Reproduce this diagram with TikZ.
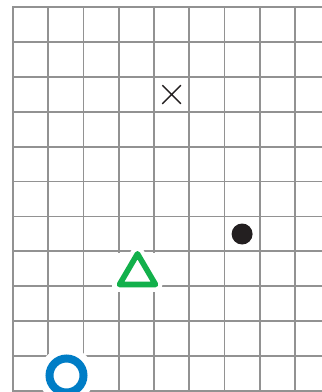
\documentclass[tikz,border=0pt]{standalone}
\definecolor{gridgray}{RGB}{146,146,146}
\definecolor{ringblue}{RGB}{0,125,198}
\definecolor{trigreen}{RGB}{18,176,75}
\definecolor{markblack}{RGB}{35,31,32}
\begin{document}
\begin{tikzpicture}[x=1pt,y=-1pt,
  gridline/.style={draw=gridgray, line width=1.8pt, line cap=rect},
  halo/.style={fill=white, draw=none},
  crossmark/.style={draw=markblack, line width=1.5pt},
  trianglemark/.style={draw=trigreen, line width=5.6pt, line join=round},
  ringmark/.style={draw=ringblue, line width=8pt},
  dotmark/.style={fill=markblack, draw=none}]
\useasboundingbox (0,0) rectangle (322,392);
% grid
\foreach \i in {0,...,8} \draw[gridline] ({13+35.25*\i},7) -- ({13+35.25*\i},393);
\foreach \j in {0,...,11} \draw[gridline] (13,{7+34.9*\j}) -- (323,{7+34.9*\j});
% named centres
\coordinate (xc) at (171.6,94.5);
\coordinate (dc) at (242.1,234);
\coordinate (rc) at (66.5,375.5);
\coordinate (ta) at (137.5,253.8);
\coordinate (tl) at (119.5,284.5);
\coordinate (tr) at (155.5,284.5);
% white halos
\fill[halo] (rc) circle (28);
\fill[halo] (112,253) rectangle (162,292);
\draw[white, line width=14pt, line join=round] (tl) -- (ta) -- (tr) -- cycle;
% marks
\draw[crossmark] ([shift={(-9.3,-9.3)}]xc) -- ([shift={(9.3,9.3)}]xc)
                 ([shift={(-9.3,9.3)}]xc) -- ([shift={(9.3,-9.3)}]xc);
\fill[dotmark] (dc) circle (10.5);
\draw[trianglemark] (tl) -- (ta) -- (tr) -- cycle;
\draw[ringmark] (rc) circle (17);
\end{tikzpicture}
\end{document}
